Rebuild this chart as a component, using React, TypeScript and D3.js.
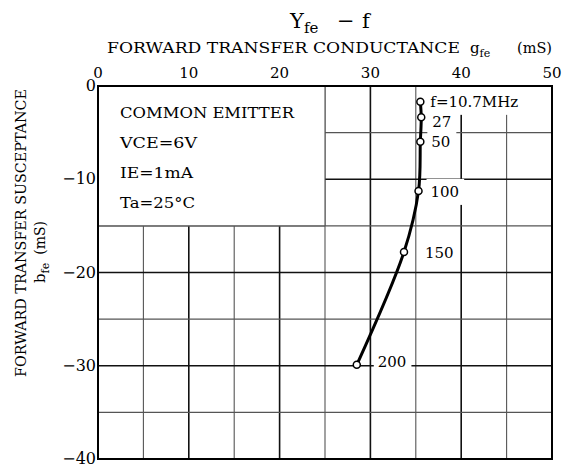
import React, { useEffect, useRef } from 'react';
import * as d3 from 'd3';

const freqLabels = ['f=10.7MHz', '27', '50', '100', '150', '200'];
const gfe = [35.5, 35.6, 35.5, 35.3, 33.7, 28.5];
const bfe = [-1.7, -3.35, -5.97, -11.25, -17.8, -29.9];
const xTicks = [0, 10, 20, 30, 40, 50];
const yTicks = [0, -10, -20, -30, -40];
const conditions = ['COMMON EMITTER', 'VCE=6V', 'IE=1mA', 'Ta=25°C'];

const FONT = "'DejaVu Serif', 'Liberation Serif', serif";

export default function App() {
  const ref = useRef<SVGSVGElement | null>(null);

  useEffect(() => {
    const svg = d3.select(ref.current);
    svg.selectAll('*').remove();
    const x = d3.scaleLinear().domain([0, 50]).range([98, 552]);
    const y = d3.scaleLinear().domain([-40, 0]).range([459, 86]);

    const g = svg.append('g').attr('font-family', FONT).attr('fill', '#000');

    // grid
    const gridVals = d3.range(5, 50, 5);
    const yGridVals = d3.range(-35, 0, 5);
    gridVals.forEach((v) => {
      const major = v % 10 === 0;
      g.append('line')
        .attr('x1', x(v)).attr('x2', x(v)).attr('y1', y(0)).attr('y2', y(-40))
        .attr('stroke', major ? '#111' : '#555').attr('stroke-width', major ? 1.6 : 1.1);
    });
    yGridVals.forEach((v) => {
      const major = v % 10 === 0;
      g.append('line')
        .attr('x1', x(0)).attr('x2', x(50)).attr('y1', y(v)).attr('y2', y(v))
        .attr('stroke', major ? '#111' : '#555').attr('stroke-width', major ? 1.6 : 1.1);
    });

    // condition box (white area covering grid)
    g.append('rect')
      .attr('x', x(0)).attr('y', y(0)).attr('width', x(25) - x(0)).attr('height', y(-15) - y(0))
      .attr('fill', '#fff');
    g.append('line').attr('x1', x(25)).attr('x2', x(25)).attr('y1', y(0)).attr('y2', y(-15))
      .attr('stroke', '#555').attr('stroke-width', 1.1);
    g.append('line').attr('x1', x(0)).attr('x2', x(25)).attr('y1', y(-15)).attr('y2', y(-15))
      .attr('stroke', '#555').attr('stroke-width', 1.1);

    const condLens = [174, 77, 73, 75];
    conditions.forEach((c, i) => {
      g.append('text')
        .attr('x', 120).attr('y', 118 + i * 30)
        .attr('font-size', 15)
        .attr('textLength', condLens[i]).attr('lengthAdjust', 'spacingAndGlyphs')
        .text(c);
    });

    // frequency label backgrounds and labels
    const lblDx = [10, 11, 11, 12, 21, 21];
    const lblDy = [5, 10, 5, 6, 6, 2];
    const bgLayer = g.append('g');
    const data = freqLabels.map((f, i) => ({ f, g: gfe[i], b: bfe[i], i }));

    // frame
    g.append('rect')
      .attr('x', x(0)).attr('y', y(0)).attr('width', x(50) - x(0)).attr('height', y(-40) - y(0))
      .attr('fill', 'none').attr('stroke', '#000').attr('stroke-width', 2);

    // curve
    const line = d3.line<any>()
      .x((d) => x(d.g)).y((d) => y(d.b))
      .curve(d3.curveCatmullRom.alpha(0.5));
    g.append('path').attr('d', line(data) as string)
      .attr('fill', 'none').attr('stroke', '#000').attr('stroke-width', 3);

    g.selectAll('circle.m').data(data).enter().append('circle')
      .attr('cx', (d) => x(d.g)).attr('cy', (d) => y(d.b)).attr('r', 3.5)
      .attr('fill', '#fff').attr('stroke', '#000').attr('stroke-width', 1.5);

    const texts = g.selectAll('text.fl').data(data).enter().append('text')
      .attr('class', 'fl')
      .attr('x', (d) => x(d.g) + lblDx[d.i]).attr('y', (d) => y(d.b) + lblDy[d.i])
      .attr('font-size', 15)
      .text((d) => d.f);
    texts.each(function (d: any) {
      const bb = (this as SVGTextElement).getBBox();
      const padTop = d.i === 0 ? 16 : 8;
      const padR = d.i === 0 ? 20 : 5;
      bgLayer.append('rect')
        .attr('x', bb.x - 4).attr('y', bb.y - (d.i === 0 ? 6 : 4))
        .attr('width', bb.width + 4 + padR).attr('height', bb.height + (d.i === 0 ? 10 : padTop))
        .attr('fill', '#fff');
    });

    // tick labels
    xTicks.forEach((v) => {
      g.append('text').attr('x', x(v)).attr('y', 78).attr('text-anchor', 'middle')
        .attr('font-size', 15).text(String(v));
    });
    yTicks.forEach((v) => {
      g.append('text').attr('x', 96).attr('y', y(v) + 5).attr('text-anchor', 'end')
        .attr('font-size', 16).text(v === 0 ? '0' : '\u2212' + Math.abs(v));
    });

    // top title
    const t1 = g.append('text').attr('x', 290).attr('y', 28).attr('font-size', 21);
    t1.append('tspan').text('Y');
    t1.append('tspan').attr('font-size', 15).attr('dy', 5).text('fe');
    g.append('text').attr('x', 337).attr('y', 28).attr('font-size', 21).text('\u2212');
    g.append('text').attr('x', 362).attr('y', 28).attr('font-size', 21).text('f');

    g.append('text').attr('x', 107).attr('y', 53).attr('font-size', 14)
      .attr('textLength', 353).attr('lengthAdjust', 'spacingAndGlyphs')
      .text('FORWARD TRANSFER CONDUCTANCE');
    const gf = g.append('text').attr('x', 470).attr('y', 53).attr('font-size', 15);
    gf.append('tspan').text('g');
    gf.append('tspan').attr('font-size', 11).attr('dy', 4).text('fe');
    g.append('text').attr('x', 517).attr('y', 53).attr('font-size', 14)
      .attr('textLength', 35).attr('lengthAdjust', 'spacingAndGlyphs').text('(mS)');

    // y title
    g.append('text')
      .attr('transform', 'translate(26,377) rotate(-90)')
      .attr('font-size', 14)
      .attr('textLength', 288).attr('lengthAdjust', 'spacingAndGlyphs')
      .text('FORWARD TRANSFER SUSCEPTANCE');
    const yt2 = g.append('text')
      .attr('transform', 'translate(45,283) rotate(-90)')
      .attr('font-size', 14);
    yt2.append('tspan').attr('font-size', 15).text('b');
    yt2.append('tspan').attr('font-size', 11).attr('dy', 4).text('fe');
    yt2.append('tspan').attr('dy', -4).attr('dx', 8).text('(mS)');
  }, []);

  return (
    <svg
      ref={ref}
      width={564}
      height={470}
      style={{ position: 'absolute', left: 0, top: 0, background: '#fff' }}
    />
  );
}
